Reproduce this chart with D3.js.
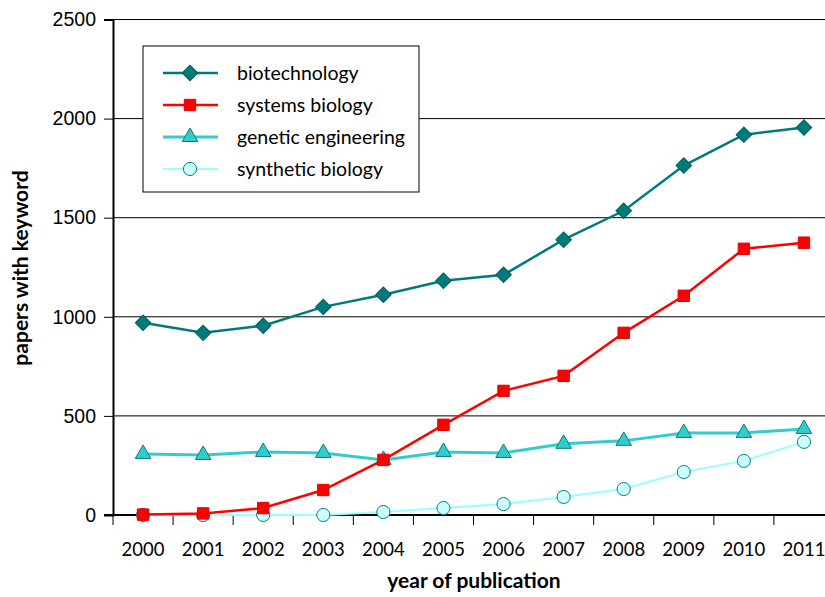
<!DOCTYPE html>
<html><head><meta charset="utf-8">
<script src="https://cdn.jsdelivr.net/npm/d3@7"></script>
<style>body{margin:0;background:#fff}svg{display:block;font-family:Lato,"Open Sans",sans-serif}</style>
</head><body>
<svg id="c" width="825" height="597"></svg>
<script>
const years = ["2000","2001","2002","2003","2004","2005","2006","2007","2008","2009","2010","2011"];
const biotechnology = [970, 919, 955, 1050, 1111, 1182, 1212, 1389, 1535, 1763, 1919, 1955];
const systemsBiology = [2, 8, 35, 126, 278, 455, 626, 702, 919, 1106, 1343, 1374];
const geneticEngineering = [308, 303, 318, 313, 278, 318, 313, 359, 374, 414, 414, 434];
const syntheticBiology = [0, 0, 0, 0, 15, 35, 55, 91, 131, 217, 273, 369];
const yTicks = [0, 500, 1000, 1500, 2000, 2500];
const seriesNames = ["biotechnology", "systems biology", "genetic engineering", "synthetic biology"];

(function () {
const series = [
  {name: seriesNames[0], values: biotechnology, line: "#007B7B", fill: "#007B7B", stroke: "#005C5C", sym: "diamond", lw: 2.5},
  {name: seriesNames[1], values: systemsBiology, line: "#FF0000", fill: "#FF0000", stroke: "#E00000", sym: "square", lw: 2.5},
  {name: seriesNames[2], values: geneticEngineering, line: "#33CCCC", fill: "#33CCCC", stroke: "#008080", sym: "triangle", lw: 3},
  {name: seriesNames[3], values: syntheticBiology, line: "#99FFFF", fill: "#CCFFFF", stroke: "#008080", sym: "circle", lw: 2}
];

const svg = d3.select("#c");
const mLeft = 113, mRight = 834, mTop = 19.5, mBottom = 515;
const x = d3.scaleBand().domain(years).range([mLeft, mRight]);
const y = d3.scaleLinear().domain([0, 2500]).range([mBottom, mTop]);
const cx = d => x(d) + x.bandwidth() / 2;

// gridlines
svg.append("g").selectAll("line").data(yTicks.filter(d => d > 0)).join("line")
  .attr("x1", mLeft).attr("x2", 825).attr("y1", d => y(d)).attr("y2", d => y(d))
  .attr("stroke", "#000").attr("stroke-width", 1);

// y axis
const yAxis = svg.append("g").attr("transform", `translate(${mLeft},0)`)
  .call(d3.axisLeft(y).tickValues(yTicks).tickSize(9).tickPadding(8).tickFormat(d3.format("d")));
yAxis.select(".domain").attr("stroke", "#000").attr("stroke-width", 2);
yAxis.selectAll("text").attr("font-size", 19.5).attr("fill", "#000");

// x axis
const xAxisG = svg.append("g");
xAxisG.append("line").attr("x1", mLeft - 9).attr("x2", 825).attr("y1", mBottom).attr("y2", mBottom)
  .attr("stroke", "#000").attr("stroke-width", 2);
xAxisG.selectAll("line.t").data(years).join("line").attr("class", "t")
  .attr("x1", d => x(d)).attr("x2", d => x(d)).attr("y1", mBottom).attr("y2", mBottom + 10)
  .attr("stroke", "#000").attr("stroke-width", 1);
xAxisG.selectAll("text").data(years).join("text")
  .attr("x", d => cx(d)).attr("y", 556)
  .attr("text-anchor", "middle").attr("font-size", 18.5).attr("fill", "#000").text(d => d);

// titles
svg.append("text").attr("x", 474).attr("y", 588).attr("text-anchor", "middle")
  .attr("font-size", 21).attr("font-weight", "bold").text("year of publication");
svg.append("text").attr("transform", "translate(28,268) rotate(-90)").attr("text-anchor", "middle")
  .attr("font-size", 21).attr("font-weight", "bold").text("papers with keyword");

const symMap = {diamond: d3.symbolSquare, square: d3.symbolSquare, triangle: d3.symbolTriangle, circle: d3.symbolCircle};
const symSize = {diamond: 120, square: 130, triangle: 105, circle: 135};
function drawMarker(g, s, px, py) {
  g.append("path").attr("d", d3.symbol(symMap[s.sym], symSize[s.sym])())
    .attr("transform", `translate(${px},${py})` + (s.sym === "diamond" ? " rotate(45)" : ""))
    .attr("fill", s.fill).attr("stroke", s.stroke).attr("stroke-width", 1);
}

const line = d3.line().x((d, i) => cx(years[i])).y(d => y(d));
const draw = [series[3], series[2], series[1], series[0]];
draw.forEach(s => {
  const g = svg.append("g");
  g.append("path").attr("d", line(s.values)).attr("fill", "none").attr("stroke", s.line).attr("stroke-width", s.lw);
  s.values.forEach((v, i) => drawMarker(g, s, cx(years[i]), y(v)));
});

// legend
const lg = svg.append("g");
lg.append("rect").attr("x", 143).attr("y", 46).attr("width", 276).attr("height", 146)
  .attr("fill", "#fff").attr("stroke", "#000").attr("stroke-width", 1);
series.forEach((s, i) => {
  const ly = 73 + i * 32;
  lg.append("line").attr("x1", 163).attr("x2", 218).attr("y1", ly).attr("y2", ly)
    .attr("stroke", s.line).attr("stroke-width", s.lw);
  drawMarker(lg, s, 190, ly);
  lg.append("text").attr("x", 237).attr("y", ly + 6.5).attr("font-size", 19.5).attr("fill", "#000").text(s.name);
});
})();
</script>
</body></html>
